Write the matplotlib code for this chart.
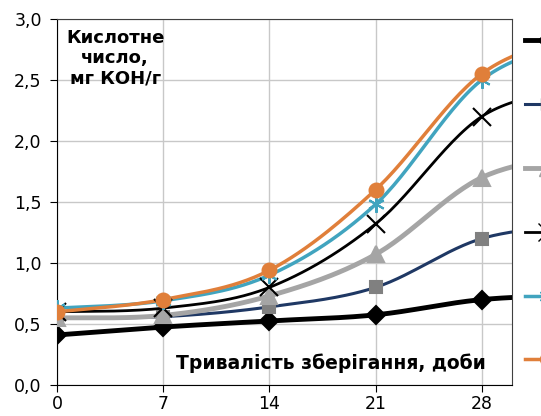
import matplotlib.pyplot as plt
import numpy as np

plt.rcParams['font.family'] = ['DejaVu Sans']

# тривалість зберігання, доби (останню точку обрізає вісь)
days = [0, 7, 14, 21, 28, 35]

s1 = [0.41, 0.475, 0.525, 0.575, 0.70, 0.74]
s2 = [0.55, 0.56, 0.64, 0.80, 1.20, 1.32]
s3 = [0.55, 0.57, 0.73, 1.07, 1.70, 1.90]
s4 = [0.60, 0.63, 0.80, 1.32, 2.20, 2.45]
s5 = [0.63, 0.69, 0.90, 1.48, 2.50, 2.85]
s6 = [0.60, 0.70, 0.94, 1.60, 2.55, 2.90]
labels = ["", "", "", "", "", ""]


def smooth(x, y, n=30):
    # згладжування як у Excel (кубічні Безьє)
    x = np.asarray(x, float)
    y = np.asarray(y, float)
    px, py = [], []
    for i in range(len(x) - 1):
        x0, y0 = (x[i - 1], y[i - 1]) if i > 0 else (x[i], y[i])
        x3, y3 = (x[i + 2], y[i + 2]) if i + 2 < len(x) else (x[i + 1], y[i + 1])
        c1x = x[i] + (x[i + 1] - x0) / 6
        c1y = y[i] + (y[i + 1] - y0) / 6
        c2x = x[i + 1] - (x3 - x[i]) / 6
        c2y = y[i + 1] - (y3 - y[i]) / 6
        t = np.linspace(0, 1, n)
        px.append((1 - t) ** 3 * x[i] + 3 * (1 - t) ** 2 * t * c1x + 3 * (1 - t) * t ** 2 * c2x + t ** 3 * x[i + 1])
        py.append((1 - t) ** 3 * y[i] + 3 * (1 - t) ** 2 * t * c1y + 3 * (1 - t) * t ** 2 * c2y + t ** 3 * y[i + 1])
    return np.concatenate(px), np.concatenate(py)


fig = plt.figure(figsize=(5.41, 4.16), dpi=100)
ax = fig.add_axes([57 / 541, 1 - 385 / 416, (512 - 57) / 541, (385 - 19) / 416])

styles = [
    (s1, "black", 3.5, "D", "black", 9),
    (s2, "#1F3864", 2.2, "s", "#808080", 9),
    (s3, "#A5A5A5", 3.5, "^", "#A5A5A5", 11),
    (s4, "black", 2.0, "x", "black", 13),
    (s5, "#41A4BF", 2.5, (6, 2, 0), "#41A4BF", 12),
    (s6, "#E07F3A", 2.5, "o", "#E07F3A", 10),
]

handles = []
for ys, col, lw, mk, mc, ms in styles:
    sx, sy = smooth(days, ys)
    ax.plot(sx, sy, color=col, lw=lw, zorder=3)
    ax.plot(days, ys, ls="none", marker=mk, color=mc, ms=ms, mew=1.5, zorder=4)
    h, = plt.plot([], [], color=col, lw=lw, marker=mk, mfc=mc, mec=mc, ms=ms)
    handles.append(h)

ax.set_xlim(0, 30)
ax.set_ylim(0, 3.0)
ax.set_xticks([0, 7, 14, 21, 28])
ax.set_yticks(np.arange(0, 3.01, 0.5))
ax.set_yticklabels([f"{v:.1f}".replace(".", ",") for v in np.arange(0, 3.01, 0.5)])
ax.tick_params(labelsize=12.5, direction="out", length=5, color="black")
ax.tick_params(axis="y", pad=6)
ax.tick_params(axis="x", pad=2.5)
ax.grid(True, color="#C8C8C8", lw=1)
ax.set_axisbelow(True)
for sp in ax.spines.values():
    sp.set_color("#404040")
ax.spines["left"].set_color("black")
ax.spines["bottom"].set_color("black")

ax.text(0.128, 0.893, "Кислотне\nчисло,\nмг КОН/г", transform=ax.transAxes,
        ha="center", va="center", fontsize=13, fontweight="bold", linespacing=1.15)
ax.text(0.602, 0.060, "Тривалість зберігання, доби", transform=ax.transAxes,
        ha="center", va="center", fontsize=13.5, fontweight="bold")

fig.legend(handles, labels, loc="upper left", bbox_to_anchor=(525 / 541, 1 - 32 / 416),
           frameon=False, borderpad=0, borderaxespad=0, handlelength=2.6,
           labelspacing=2.75, fontsize=12)

fig.savefig("out.png", dpi=100)
